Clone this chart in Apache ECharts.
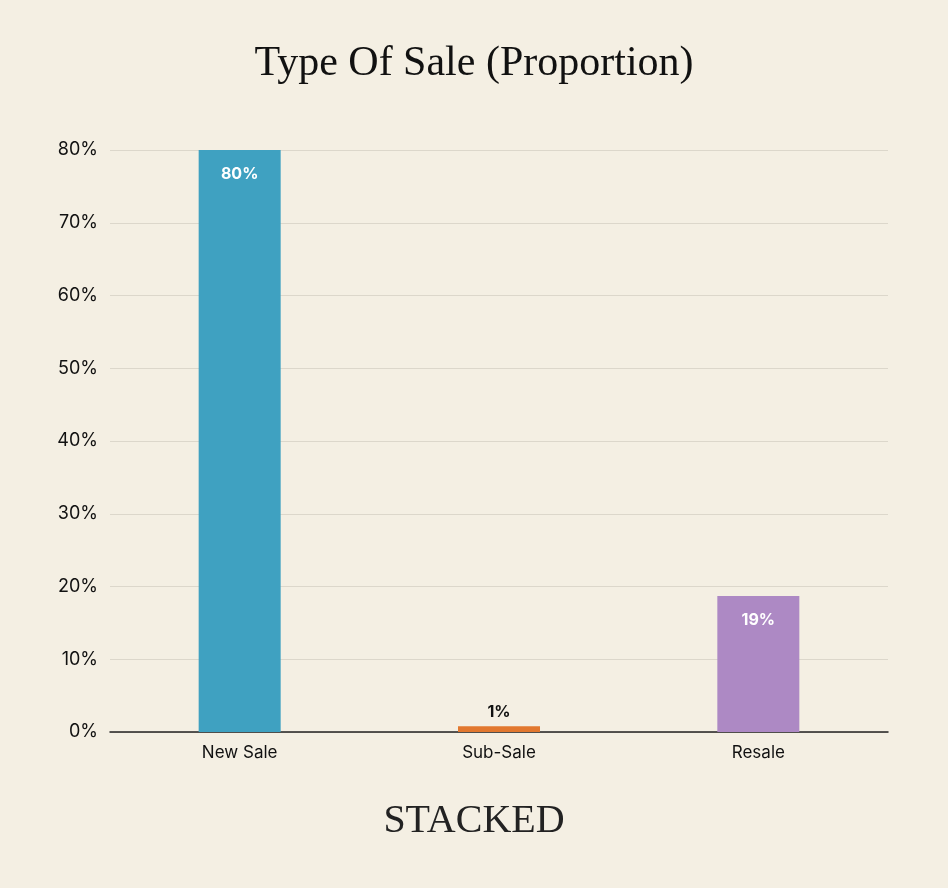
<!DOCTYPE html>
<html><head><meta charset="utf-8">
<script src="https://cdn.jsdelivr.net/npm/echarts@6/dist/echarts.min.js"></script>
<style>html,body{margin:0;background:#f4efe3}#c{width:948px;height:888px}</style>
</head><body><div id="c"></div>
<script>
const categories = ["New Sale", "Sub-Sale", "Resale"];
const values = [80, 0.8, 18.7];
const labelsText = ["80%", "1%", "19%"];
const colors = ["#3fa1c1", "#e2782f", "#ad89c4"];

const chart = echarts.init(document.getElementById('c'));
chart.setOption({
  backgroundColor: '#f4efe3',
  title: [{
    text: 'Type Of Sale (Proportion)', left: 'center', top: 38,
    textStyle: {fontFamily: 'Liberation Serif', fontWeight: 'normal', fontSize: 42, color: '#111'}
  }, {
    text: 'STACKED', left: 'center', top: 796,
    textStyle: {fontFamily: 'Liberation Serif', fontWeight: 'normal', fontSize: 40, color: '#222'}
  }],
  grid: {left: 110, right: 60, top: 150, bottom: 156},
  xAxis: {
    type: 'category', data: categories,
    axisLine: {lineStyle: {color: '#222', width: 1.5}},
    axisTick: {show: false},
    axisLabel: {color: '#111', fontSize: 17, fontFamily: 'Inter', margin: 12}
  },
  yAxis: {
    type: 'value', min: 0, max: 80, interval: 10,
    axisLabel: {formatter: '{value}%', color: '#111', fontSize: 18, fontFamily: 'Inter', margin: 12},
    splitLine: {lineStyle: {color: '#dcd7cb'}}
  },
  series: [{
    type: 'bar', barWidth: 82,
    data: values.map((v, i) => ({
      value: v, itemStyle: {color: colors[i]},
      label: i === 1
        ? {show: true, position: 'top', color: '#111', distance: 6}
        : {show: true, position: 'insideTop', color: '#fff', distance: 16}
    })),
    label: {
      fontSize: 16, fontWeight: 'bold', fontFamily: 'Inter',
      formatter: p => labelsText[p.dataIndex]
    }
  }]
});
</script></body></html>
